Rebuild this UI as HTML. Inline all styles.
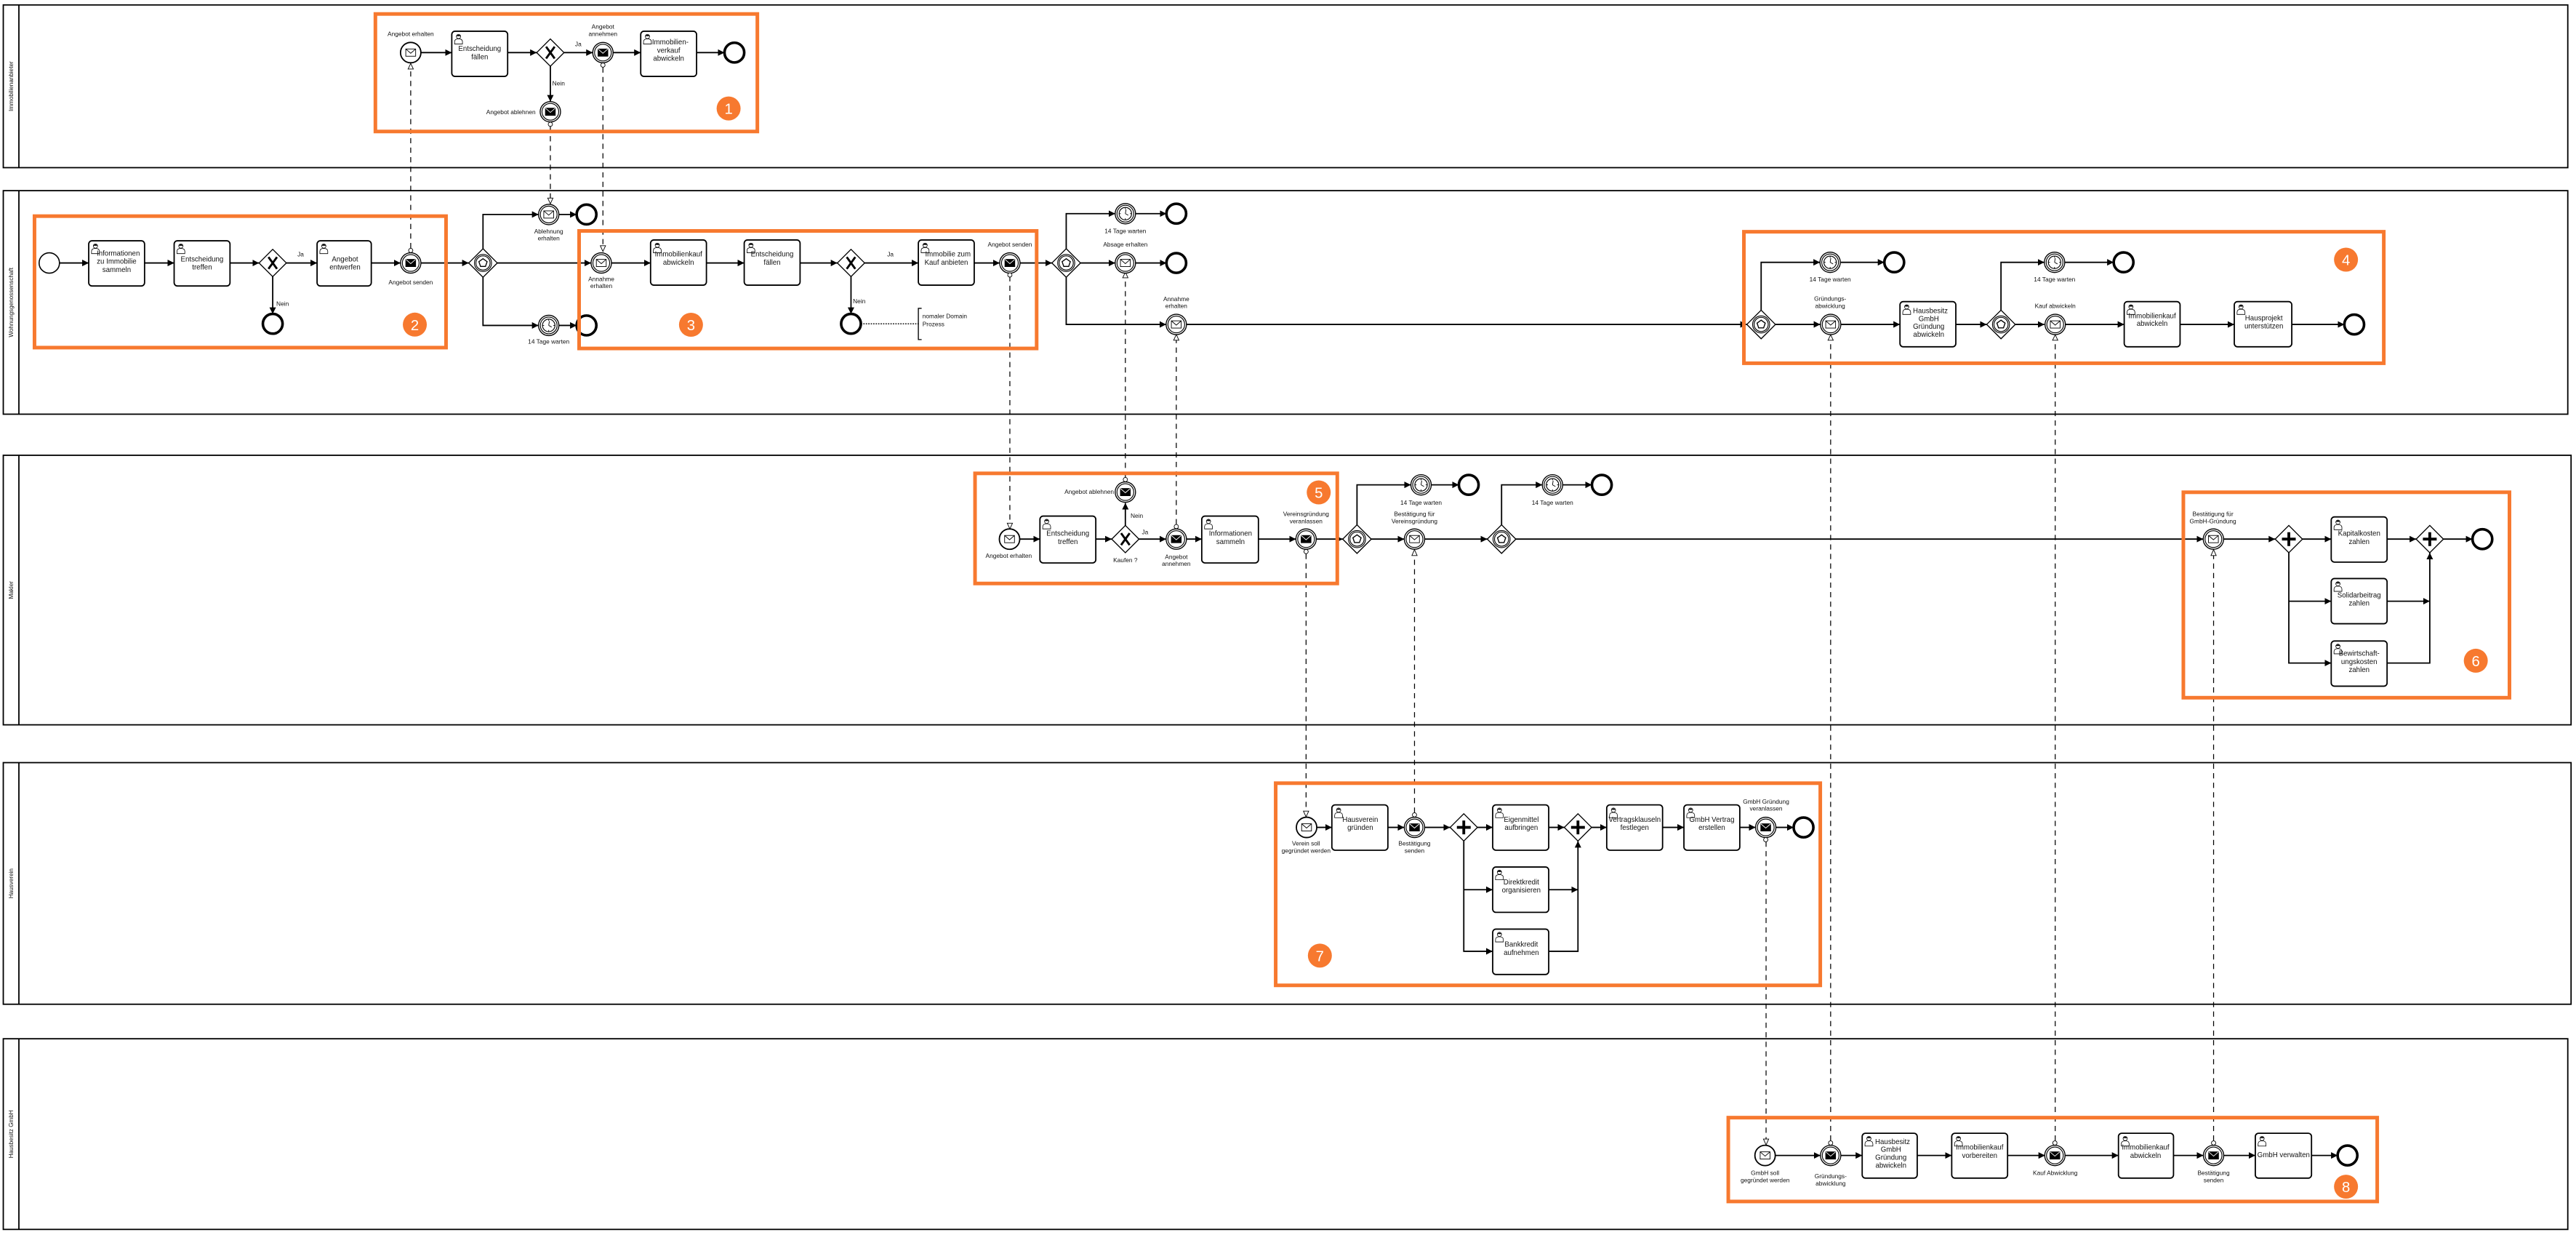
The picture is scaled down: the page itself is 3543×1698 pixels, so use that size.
<!DOCTYPE html>
<html><head><meta charset="utf-8"><style>
html,body{margin:0;padding:0;background:#fff;}
svg{display:block;}
text{font-family:"Liberation Sans",sans-serif;fill:#111;}
.t{font-size:4.3px;text-anchor:middle;}
.l{font-size:3.7px;text-anchor:middle;}
.s{stroke:#000;stroke-width:0.8;fill:none;}
.m{stroke:#000;stroke-width:0.55;fill:none;stroke-dasharray:3.2,2.6;}
.ob{fill:none;stroke:#f7792f;stroke-width:2.2;}
.task{fill:#fff;stroke:#000;stroke-width:0.8;}
.lane{fill:#fff;stroke:#000;stroke-width:0.8;}
.bt{font-size:9px;fill:#fff;text-anchor:middle;}
</style></head><body>
<svg width="3543" height="1698" viewBox="0 0 1568 751.4" preserveAspectRatio="none" xmlns="http://www.w3.org/2000/svg">
<defs>
<marker id="a" markerUnits="userSpaceOnUse" markerWidth="4" markerHeight="4" refX="4" refY="2" orient="auto"><path d="M0,0 L4,2 L0,4 z" fill="#000"/></marker>
<g id="env"><rect x="-3" y="-2.2" width="6" height="4.4" fill="#fff" stroke="#000" stroke-width="0.4"/><path d="M-3,-2.2 L0,0.4 L3,-2.2" fill="none" stroke="#000" stroke-width="0.4"/></g>
<g id="envb"><rect x="-3" y="-2.2" width="6" height="4.4" fill="#000" stroke="#000" stroke-width="0.4"/><path d="M-3,-2.2 L0,0.4 L3,-2.2" fill="none" stroke="#fff" stroke-width="0.4"/></g>
<g id="ce"><circle r="6.2" fill="#fff" stroke="#000" stroke-width="0.6"/><circle r="5.1" fill="none" stroke="#000" stroke-width="0.5"/><use href="#env"/></g>
<g id="te"><circle r="6.2" fill="#fff" stroke="#000" stroke-width="0.6"/><circle r="5.1" fill="none" stroke="#000" stroke-width="0.5"/><use href="#envb"/></g>
<g id="sm"><circle r="6.2" fill="#fff" stroke="#000" stroke-width="0.8"/><use href="#env"/></g>
<g id="tm"><circle r="6.2" fill="#fff" stroke="#000" stroke-width="0.6"/><circle r="5.1" fill="none" stroke="#000" stroke-width="0.5"/><circle r="3.8" fill="#fff" stroke="#000" stroke-width="0.5"/><path d="M0,-3.8v1M0,3.8v-1M-3.8,0h1M3.8,0h-1M0,0L0.4,-2.6M0,0L1.8,1" stroke="#000" stroke-width="0.4" fill="none"/></g>
<g id="end"><circle r="6" fill="#fff" stroke="#000" stroke-width="1.6"/></g>
<g id="st"><circle r="6.2" fill="#fff" stroke="#000" stroke-width="0.7"/></g>
<g id="xg"><path d="M0,-8.3L8.3,0L0,8.3L-8.3,0z" fill="#fff" stroke="#000" stroke-width="0.6"/><path d="M-2.6,-3.6L2.6,3.6M2.6,-3.6L-2.6,3.6" stroke="#000" stroke-width="1.3"/></g>
<g id="pg"><path d="M0,-8.3L8.3,0L0,8.3L-8.3,0z" fill="#fff" stroke="#000" stroke-width="0.6"/><path d="M-4.2,0H4.2M0,-4.2V4.2" stroke="#000" stroke-width="1.7"/></g>
<g id="eg"><path d="M0,-8.7L8.7,0L0,8.7L-8.7,0z" fill="#fff" stroke="#000" stroke-width="0.6"/><circle r="5.2" fill="none" stroke="#000" stroke-width="0.5"/><circle r="4.3" fill="none" stroke="#000" stroke-width="0.5"/><path d="M0,-2.6L2.5,-0.8L1.5,2.1L-1.5,2.1L-2.5,-0.8z" fill="none" stroke="#000" stroke-width="0.6"/></g>
<g id="u"><circle cx="2.6" cy="1.7" r="1.3" fill="#fff" stroke="#000" stroke-width="0.35"/><path d="M1.3,1.5 Q2.6,-0.2 3.9,1.5 Z" fill="#000"/><path d="M0.2,6.3 V4.9 Q0.2,3.2 2.6,3.1 Q5,3.2 5,4.9 V6.3 Z" fill="#fff" stroke="#000" stroke-width="0.35"/></g>
<g id="ci"><circle r="1.3" fill="#fff" stroke="#000" stroke-width="0.4"/></g>
</defs>

<!-- lanes -->
<rect class="lane" x="2" y="3" width="1561" height="99"/><line x1="11.5" y1="3" x2="11.5" y2="102" stroke="#000" stroke-width="0.8"/>
<rect class="lane" x="2" y="116" width="1561" height="136"/><line x1="11.5" y1="116" x2="11.5" y2="252" stroke="#000" stroke-width="0.8"/>
<rect class="lane" x="2" y="277" width="1563" height="164"/><line x1="11.5" y1="277" x2="11.5" y2="441" stroke="#000" stroke-width="0.8"/>
<rect class="lane" x="2" y="464" width="1563" height="147"/><line x1="11.5" y1="464" x2="11.5" y2="611" stroke="#000" stroke-width="0.8"/>
<rect class="lane" x="2" y="632" width="1561" height="116"/><line x1="11.5" y1="632" x2="11.5" y2="748" stroke="#000" stroke-width="0.8"/>
<g font-size="3.6" text-anchor="middle">
<text transform="translate(8,52.5) rotate(-90)">Immobilienanbieter</text>
<text transform="translate(8,184) rotate(-90)">Wohnungsgenossenschaft</text>
<text transform="translate(8,359) rotate(-90)">Makler</text>
<text transform="translate(8,537.5) rotate(-90)">Hausverein</text>
<text transform="translate(8,690) rotate(-90)">Hausbesitz GmbH</text>
</g>

<!-- message flows -->
<g class="m">
<path d="M250,151V42"/><path d="M335,77V120.5"/><path d="M367,41V149.5"/>
<path d="M614.7,168V318.3"/><path d="M685,290.5V169"/><path d="M716,319V207"/>
<path d="M795,337V493.5"/><path d="M861,494.5V338"/><path d="M1075,512V693"/>
<path d="M1114.3,694V207"/><path d="M1251,694V207"/><path d="M1347.4,694V338"/>
</g>
<g fill="#fff" stroke="#000" stroke-width="0.4">
<path d="M250,38.6L251.6,42L248.4,42z"/><path d="M335,124L336.6,120.5L333.4,120.5z"/><path d="M367,153L368.6,149.5L365.4,149.5z"/>
<path d="M614.7,321.8L616.3,318.3L613.1,318.3z"/><path d="M685,165.6L686.6,169L683.4,169z"/><path d="M716,203.5L717.6,207L714.4,207z"/>
<path d="M795,497L796.6,493.5L793.4,493.5z"/><path d="M861,334.4L862.6,338L859.4,338z"/><path d="M1075,696.6L1076.6,693L1073.4,693z"/>
<path d="M1114.3,203.7L1115.9,207L1112.7,207z"/><path d="M1251,203.7L1252.6,207L1249.4,207z"/><path d="M1347.4,334.4L1349,338L1345.8,338z"/>
</g>

<!-- sequence flows -->
<g class="s" marker-end="url(#a)">
<path d="M256.3,32H275"/><path d="M309,32H326.7"/><path d="M343.3,32H360.8"/><path d="M373.2,32H390"/><path d="M424,32H441"/><path d="M335,40.3V61.8"/>
<path d="M36.2,160H54"/><path d="M88,160H106"/><path d="M140,160H157.7"/><path d="M174.3,160H193"/><path d="M226,160H243.8"/><path d="M256.2,160H285.3"/><path d="M166,168.3V191"/>
<path d="M294,151.3V130.5H327.8"/><path d="M340.2,130.5H351"/><path d="M294,168.7V198H327.8"/><path d="M340.2,198H351"/><path d="M302.7,160H359.8"/>
<path d="M372.2,160H396"/><path d="M430,160H453"/><path d="M487,160H509.7"/><path d="M526.3,160H559"/><path d="M518,168.3V191"/><path d="M593,160H608.5"/><path d="M620.9,160H640.3"/>
<path d="M649,151.3V130H678.8"/><path d="M691.2,130H710"/><path d="M657.7,160H678.8"/><path d="M691.2,160H710"/><path d="M649,168.7V197.4H709.8"/><path d="M722.2,197.4H1063.3"/>
<path d="M1072,188.7V159.6H1107.8"/><path d="M1120.5,159.6H1147"/><path d="M1080.7,197.4H1108"/><path d="M1120.5,197.4H1156.5"/><path d="M1190.5,197.4H1209.3"/>
<path d="M1218,188.7V159.6H1244.4"/><path d="M1257,159.6H1286.6"/><path d="M1226.7,197.4H1244.4"/><path d="M1257,197.4H1293"/><path d="M1327,197.4H1360"/><path d="M1395,197.4H1427"/>
<path d="M620.3,328H633"/><path d="M667,328H676.7"/><path d="M685,319.7V306"/><path d="M693.3,328H709.8"/><path d="M722.2,328H731.5"/><path d="M766,328H788.8"/><path d="M801.2,328H817.3"/>
<path d="M826,319.3V295H858.8"/><path d="M871.2,295H888"/><path d="M834.7,328H854.8"/><path d="M867.2,328H905.3"/><path d="M914,319.3V295H938.8"/><path d="M951.2,295H969"/><path d="M922.7,328H1341.1"/>
<path d="M1353.5,328H1384.9"/><path d="M1401.5,328H1419"/><path d="M1453,328H1470.7"/><path d="M1487.3,328H1505"/>
<path d="M1393.2,336.3V403.4H1419"/><path d="M1393.2,365.8H1419"/><path d="M1453,365.8H1479"/><path d="M1453,403.4H1479V336.3"/>
<path d="M801.5,503.4H810.7"/><path d="M844.8,503.4H854.8"/><path d="M867.2,503.4H882.7"/><path d="M899.3,503.4H908.6"/><path d="M942.7,503.4H952.2"/><path d="M968.8,503.4H978"/><path d="M1012,503.4H1025"/><path d="M1059,503.4H1068.6"/><path d="M1081,503.4H1091.8"/>
<path d="M891,511.7V578.8H908.6"/><path d="M891,541.3H908.6"/><path d="M942.7,541.3H960.5"/><path d="M942.7,578.8H960.5V511.7"/>
<path d="M1080.6,703H1108.1"/><path d="M1120.5,703H1133.5"/><path d="M1167,703H1188"/><path d="M1222,703H1244.8"/><path d="M1257.2,703H1289.5"/><path d="M1323,703H1341.2"/><path d="M1353.6,703H1372.8"/><path d="M1407,703H1422.9"/>
</g>
<path d="M524,197H559" stroke="#000" stroke-width="0.6" stroke-dasharray="0.8,0.7"/>
<path d="M561,187.6H559V206.6H561" stroke="#000" stroke-width="0.6" fill="none"/>

<!-- lane 1 -->
<use href="#sm" x="250" y="32"/>
<rect class="task" x="275" y="19" width="34" height="27.5" rx="2"/><use href="#u" x="276.5" y="20.5"/>
<text class="t" x="292" y="31">Entscheidung</text><text class="t" x="292" y="36">fällen</text>
<use href="#xg" x="335" y="32"/>
<use href="#te" x="367" y="32"/><use href="#ci" x="367" y="39.6"/>
<rect class="task" x="390" y="19" width="34" height="27.5" rx="2"/><use href="#u" x="391.5" y="20.5"/>
<text class="t" x="408" y="27">Immobilien-</text><text class="t" x="407" y="32">verkauf</text><text class="t" x="407" y="37">abwickeln</text>
<use href="#end" x="447" y="32"/>
<use href="#te" x="335" y="68"/><use href="#ci" x="335" y="75.6"/>
<text class="l" x="250" y="22">Angebot erhalten</text>
<text class="l" x="367" y="17.5">Angebot</text><text class="l" x="367" y="21.8">annehmen</text>
<text class="l" x="352" y="28">Ja</text><text class="l" x="340" y="52">Nein</text>
<text class="l" x="311" y="69.5">Angebot ablehnen</text>

<!-- lane 2 -->
<use href="#st" x="30" y="160"/>
<rect class="task" x="54" y="146.5" width="34" height="27.5" rx="2"/><use href="#u" x="55.5" y="148"/>
<text class="t" x="72" y="155.5">Informationen</text><text class="t" x="71" y="160.5">zu Immobilie</text><text class="t" x="71" y="165.5">sammeln</text>
<rect class="task" x="106" y="146.5" width="34" height="27.5" rx="2"/><use href="#u" x="107.5" y="148"/>
<text class="t" x="123" y="159">Entscheidung</text><text class="t" x="123" y="164">treffen</text>
<use href="#xg" x="166" y="160"/>
<text class="l" x="183" y="156">Ja</text><text class="l" x="172" y="186">Nein</text>
<use href="#end" x="166" y="197"/>
<rect class="task" x="193" y="146.5" width="33" height="27.5" rx="2"/><use href="#u" x="194.5" y="148"/>
<text class="t" x="210" y="159">Angebot</text><text class="t" x="210" y="164">entwerfen</text>
<use href="#te" x="250" y="160"/><use href="#ci" x="250" y="152.4"/>
<text class="l" x="250" y="173">Angebot senden</text>
<use href="#eg" x="294" y="160"/>
<use href="#ce" x="334" y="130.5"/><use href="#end" x="357" y="130.5"/>
<text class="l" x="334" y="142">Ablehnung</text><text class="l" x="334" y="146.3">erhalten</text>
<use href="#tm" x="334" y="198"/><use href="#end" x="357" y="198"/>
<text class="l" x="334" y="209">14 Tage warten</text>
<use href="#ce" x="366" y="160"/>
<text class="l" x="366" y="171">Annahme</text><text class="l" x="366" y="175.3">erhalten</text>
<rect class="task" x="396" y="146" width="34" height="27.5" rx="2"/><use href="#u" x="397.5" y="147.5"/>
<text class="t" x="413" y="156">Immobilienkauf</text><text class="t" x="413" y="161">abwickeln</text>
<rect class="task" x="453" y="146" width="34" height="27.5" rx="2"/><use href="#u" x="454.5" y="147.5"/>
<text class="t" x="470" y="156">Entscheidung</text><text class="t" x="470" y="161">fällen</text>
<use href="#xg" x="518" y="160"/>
<text class="l" x="542" y="156">Ja</text><text class="l" x="523" y="184.5">Nein</text>
<use href="#end" x="518" y="197"/>
<text x="561.5" y="193.5" font-size="3.7">nomaler Domain</text><text x="561.5" y="198.5" font-size="3.7">Prozess</text>
<rect class="task" x="559" y="146" width="34" height="27.5" rx="2"/><use href="#u" x="560.5" y="147.5"/>
<text class="t" x="577" y="156">Immobilie zum</text><text class="t" x="576" y="161">Kauf anbieten</text>
<use href="#te" x="614.7" y="160"/><use href="#ci" x="614.7" y="167.3"/>
<text class="l" x="614.7" y="150">Angebot senden</text>
<use href="#eg" x="649" y="160"/>
<use href="#tm" x="685" y="130"/><use href="#end" x="716" y="130"/>
<text class="l" x="685" y="141.8">14 Tage warten</text>
<use href="#ce" x="685" y="160"/><use href="#end" x="716" y="160"/>
<text class="l" x="685" y="150">Absage erhalten</text>
<use href="#ce" x="716" y="197.4"/>
<text class="l" x="716" y="183.3">Annahme</text><text class="l" x="716" y="187.5">erhalten</text>
<use href="#eg" x="1072" y="197.4"/>
<use href="#tm" x="1114" y="159.6"/><use href="#end" x="1153" y="159.6"/>
<text class="l" x="1114" y="171.3">14 Tage warten</text>
<use href="#ce" x="1114.3" y="197.4"/>
<text class="l" x="1114" y="183">Gründungs-</text><text class="l" x="1114" y="187.3">abwicklung</text>
<rect class="task" x="1156.5" y="183.5" width="34" height="27.5" rx="2"/><use href="#u" x="1158" y="185"/>
<text class="t" x="1175" y="190.5">Hausbesitz</text><text class="t" x="1174" y="195.3">GmbH</text><text class="t" x="1174" y="200.1">Gründung</text><text class="t" x="1174" y="204.9">abwickeln</text>
<use href="#eg" x="1218" y="197.4"/>
<use href="#tm" x="1250.6" y="159.6"/><use href="#end" x="1292.6" y="159.6"/>
<text class="l" x="1250.6" y="171.3">14 Tage warten</text>
<use href="#ce" x="1251" y="197.4"/>
<text class="l" x="1251" y="187.5">Kauf abwickeln</text>
<rect class="task" x="1293" y="183.5" width="34" height="27.5" rx="2"/><use href="#u" x="1294.5" y="185"/>
<text class="t" x="1310" y="193.5">Immobilienkauf</text><text class="t" x="1310" y="198.3">abwickeln</text>
<rect class="task" x="1360" y="183.5" width="35" height="27.5" rx="2"/><use href="#u" x="1361.5" y="185"/>
<text class="t" x="1378" y="195">Hausprojekt</text><text class="t" x="1378" y="199.8">unterstützen</text>
<use href="#end" x="1433" y="197.4"/>

<!-- Makler -->
<use href="#sm" x="614.5" y="328"/>
<text class="l" x="614" y="339.5">Angebot erhalten</text>
<rect class="task" x="633" y="314" width="34" height="28.5" rx="2"/><use href="#u" x="634.5" y="315.5"/>
<text class="t" x="650" y="326">Entscheidung</text><text class="t" x="650" y="331">treffen</text>
<use href="#xg" x="685" y="328"/>
<text class="l" x="685" y="342">Kaufen ?</text><text class="l" x="692" y="315">Nein</text><text class="l" x="697" y="325">Ja</text>
<use href="#te" x="685" y="299.4"/><use href="#ci" x="685" y="291.8"/>
<text class="l" x="663" y="300.5">Angebot ablehnen</text>
<use href="#te" x="716" y="328"/><use href="#ci" x="716" y="320.4"/>
<text class="l" x="716" y="340">Angebot</text><text class="l" x="716" y="344.3">annehmen</text>
<rect class="task" x="731.5" y="314" width="34.5" height="28.5" rx="2"/><use href="#u" x="733" y="315.5"/>
<text class="t" x="749" y="326">Informationen</text><text class="t" x="749" y="331">sammeln</text>
<use href="#te" x="795" y="328"/><use href="#ci" x="795" y="335.6"/>
<text class="l" x="795" y="314">Vereinsgründung</text><text class="l" x="795" y="318.3">veranlassen</text>
<use href="#eg" x="826" y="328"/>
<use href="#tm" x="865" y="295"/><use href="#end" x="894" y="295"/>
<text class="l" x="865" y="307">14 Tage warten</text>
<use href="#ce" x="861" y="328"/>
<text class="l" x="861" y="314">Bestätigung für</text><text class="l" x="861" y="318.3">Vereinsgründung</text>
<use href="#eg" x="914" y="328"/>
<use href="#tm" x="945" y="295"/><use href="#end" x="975" y="295"/>
<text class="l" x="945" y="307">14 Tage warten</text>
<use href="#ce" x="1347.3" y="328"/>
<text class="l" x="1347" y="314">Bestätigung für</text><text class="l" x="1347" y="318.3">GmbH-Gründung</text>
<use href="#pg" x="1393.2" y="328"/>
<rect class="task" x="1419" y="314.5" width="34" height="27.5" rx="2"/><use href="#u" x="1420.5" y="316"/>
<text class="t" x="1436" y="326">Kapitalkosten</text><text class="t" x="1436" y="331">zahlen</text>
<rect class="task" x="1419" y="352" width="34" height="27.5" rx="2"/><use href="#u" x="1420.5" y="353.5"/>
<text class="t" x="1436" y="363.5">Solidarbeitrag</text><text class="t" x="1436" y="368.5">zahlen</text>
<rect class="task" x="1419" y="390" width="34" height="27.5" rx="2"/><use href="#u" x="1420.5" y="391.5"/>
<text class="t" x="1436" y="399">Bewirtschaft-</text><text class="t" x="1436" y="404">ungskosten</text><text class="t" x="1436" y="409">zahlen</text>
<use href="#pg" x="1479" y="328"/>
<use href="#end" x="1511" y="328"/>

<!-- Hausverein -->
<use href="#sm" x="795.3" y="503.4"/>
<text class="l" x="795" y="514.5">Verein soll</text><text class="l" x="795" y="518.8">gegründet werden</text>
<rect class="task" x="810.7" y="489.7" width="34.1" height="27.6" rx="2"/><use href="#u" x="812.2" y="491.2"/>
<text class="t" x="828" y="500">Hausverein</text><text class="t" x="828" y="505">gründen</text>
<use href="#te" x="861" y="503.4"/><use href="#ci" x="861" y="495.8"/>
<text class="l" x="861" y="514.5">Bestätigung</text><text class="l" x="861" y="518.8">senden</text>
<use href="#pg" x="891" y="503.4"/>
<rect class="task" x="908.6" y="489.7" width="34.1" height="27.6" rx="2"/><use href="#u" x="910.1" y="491.2"/>
<text class="t" x="926" y="500">Eigenmittel</text><text class="t" x="926" y="505">aufbringen</text>
<rect class="task" x="908.6" y="527.5" width="34.1" height="27.6" rx="2"/><use href="#u" x="910.1" y="529"/>
<text class="t" x="926" y="538">Direktkredit</text><text class="t" x="926" y="543">organisieren</text>
<rect class="task" x="908.6" y="565.3" width="34.1" height="27.6" rx="2"/><use href="#u" x="910.1" y="566.8"/>
<text class="t" x="926" y="576">Bankkredit</text><text class="t" x="926" y="581">aufnehmen</text>
<use href="#pg" x="960.5" y="503.4"/>
<rect class="task" x="978" y="489.7" width="34" height="27.6" rx="2"/><use href="#u" x="979.5" y="491.2"/>
<text class="t" x="995" y="500">Vertragsklauseln</text><text class="t" x="995" y="505">festlegen</text>
<rect class="task" x="1025" y="489.7" width="34" height="27.6" rx="2"/><use href="#u" x="1026.5" y="491.2"/>
<text class="t" x="1042" y="500">GmbH Vertrag</text><text class="t" x="1042" y="505">erstellen</text>
<use href="#te" x="1074.8" y="503.4"/><use href="#ci" x="1074.8" y="510.9"/>
<text class="l" x="1075" y="489">GmbH Gründung</text><text class="l" x="1075" y="493.3">veranlassen</text>
<use href="#end" x="1097.8" y="503.4"/>

<!-- GmbH -->
<use href="#sm" x="1074.4" y="703"/>
<text class="l" x="1074.4" y="715">GmbH soll</text><text class="l" x="1074.4" y="719.3">gegründet werden</text>
<use href="#te" x="1114.3" y="703"/><use href="#ci" x="1114.3" y="695.4"/>
<text class="l" x="1114.3" y="717">Gründungs-</text><text class="l" x="1114.3" y="721.3">abwicklung</text>
<rect class="task" x="1133.5" y="689.5" width="33.5" height="27.3" rx="2"/><use href="#u" x="1135" y="691"/>
<text class="t" x="1152" y="696">Hausbesitz</text><text class="t" x="1151" y="700.8">GmbH</text><text class="t" x="1151" y="705.6">Gründung</text><text class="t" x="1151" y="710.4">abwickeln</text>
<rect class="task" x="1188" y="689.5" width="34" height="27.3" rx="2"/><use href="#u" x="1189.5" y="691"/>
<text class="t" x="1205" y="699.5">Immobilienkauf</text><text class="t" x="1205" y="704.5">vorbereiten</text>
<use href="#te" x="1250.8" y="703"/><use href="#ci" x="1250.8" y="695.4"/>
<text class="l" x="1251" y="715">Kauf Abwicklung</text>
<rect class="task" x="1289.5" y="689.5" width="33.5" height="27.3" rx="2"/><use href="#u" x="1291" y="691"/>
<text class="t" x="1306" y="699.5">Immobilienkauf</text><text class="t" x="1306" y="704.5">abwickeln</text>
<use href="#te" x="1347.4" y="703"/><use href="#ci" x="1347.4" y="695.4"/>
<text class="l" x="1347.4" y="715">Bestätigung</text><text class="l" x="1347.4" y="719.3">senden</text>
<rect class="task" x="1372.8" y="689.5" width="34.2" height="27.3" rx="2"/><use href="#u" x="1374.3" y="691"/>
<text class="t" x="1390" y="704">GmbH verwalten</text>
<use href="#end" x="1428.9" y="703"/>

<!-- orange boxes and badges -->
<rect class="ob" x="228.5" y="8.5" width="232.5" height="71.5"/>
<rect class="ob" x="21" y="131.5" width="250.5" height="80"/>
<rect class="ob" x="352.5" y="140.5" width="278.5" height="71.5"/>
<rect class="ob" x="1061.5" y="141" width="389.5" height="80"/>
<rect class="ob" x="593.5" y="288" width="220.5" height="67"/>
<rect class="ob" x="1329" y="299.5" width="198.5" height="125"/>
<rect class="ob" x="776.5" y="476.5" width="331.5" height="123"/>
<rect class="ob" x="1052" y="680" width="395" height="51"/>
<g fill="#f7792f">
<circle cx="443.5" cy="66" r="7.3"/><circle cx="252.5" cy="197.5" r="7.3"/><circle cx="420.6" cy="197.6" r="7.3"/><circle cx="1428" cy="158" r="7.3"/>
<circle cx="802.7" cy="299.6" r="7.3"/><circle cx="1507" cy="402" r="7.3"/><circle cx="803.4" cy="581.4" r="7.3"/><circle cx="1428" cy="722" r="7.3"/>
</g>
<g class="bt">
<text class="bt" x="443.5" y="69.3">1</text><text class="bt" x="252.5" y="200.8">2</text><text class="bt" x="420.6" y="200.9">3</text><text class="bt" x="1428" y="161.3">4</text>
<text class="bt" x="802.7" y="302.9">5</text><text class="bt" x="1507" y="405.3">6</text><text class="bt" x="803.4" y="584.7">7</text><text class="bt" x="1428" y="725.3">8</text>
</g>
</svg>
</body></html>
